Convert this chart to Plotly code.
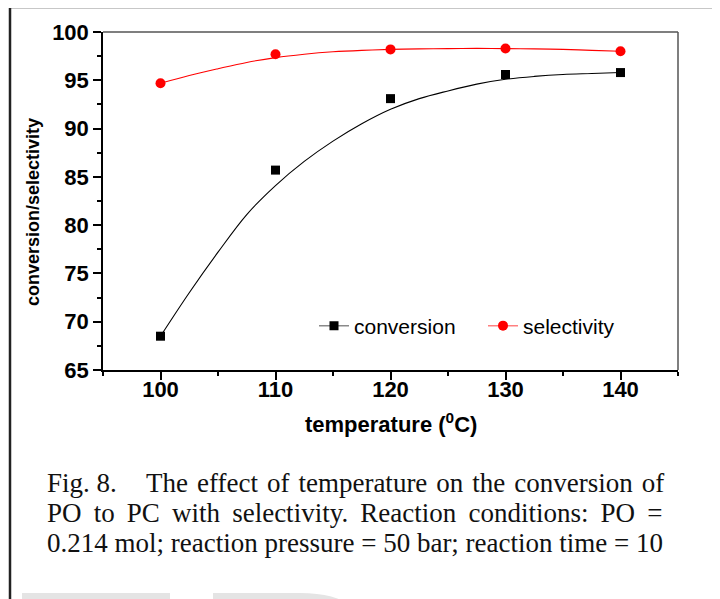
import plotly.graph_objects as go

# ---------------- data ----------------
temperature = [100, 110, 120, 130, 140]
conversion = [68.5, 85.7, 93.1, 95.6, 95.8]
selectivity = [94.7, 97.7, 98.2, 98.3, 98.0]

# fitted curves
fit_temperature = [100, 102.5, 105, 107.5, 110, 112.5, 115, 117.5, 120,
                   122.5, 125, 127.5, 130, 132.5, 135, 137.5, 140]
conversion_fit = [68.5, 73.0, 77.2, 81.1, 84.1, 86.6, 88.7, 90.5, 92.0,
                  93.1, 93.9, 94.6, 95.1, 95.4, 95.6, 95.7, 95.8]
selectivity_fit = [94.7, 95.5, 96.2, 96.85, 97.35, 97.7, 97.95, 98.1, 98.2,
                   98.25, 98.28, 98.3, 98.28, 98.25, 98.2, 98.1, 98.0]

x_ticks = [100, 110, 120, 130, 140]
y_ticks = [65, 70, 75, 80, 85, 90, 95, 100]

caption_lines = [
    "Fig. 8.",
    "The effect of temperature on the conversion of",
    "PO to PC with selectivity. Reaction conditions: PO =",
    "0.214 mol; reaction pressure = 50 bar; reaction time = 10",
]

# ---------------- layout geometry (pixels) ----------------
# the page body adds an 8px offset; positions below are in reference pixels
OFF = 8
W, H = 720, 599
ML, MT = 103 - OFF, 32 - OFF
PW, PH = 575, 338
MR, MB = W - ML - PW, H - MT - PH


def px(xp):
    return (xp - OFF - ML) / PW


def py(yp):
    return (MT + PH - (yp - OFF)) / PH


SANS = "Liberation Sans, Arial, sans-serif"
SERIF = "Liberation Serif, Times New Roman, serif"

fig = go.Figure()

# fitted lines
fig.add_trace(go.Scatter(x=fit_temperature, y=conversion_fit, mode="lines",
                         line=dict(color="black", width=1.1, shape="spline"),
                         showlegend=False, hoverinfo="skip"))
fig.add_trace(go.Scatter(x=fit_temperature, y=selectivity_fit, mode="lines",
                         line=dict(color="#ff0000", width=1.1, shape="spline"),
                         showlegend=False, hoverinfo="skip"))
# data points
fig.add_trace(go.Scatter(x=temperature, y=conversion, mode="markers",
                         marker=dict(symbol="square", size=9, color="black"),
                         showlegend=False))
fig.add_trace(go.Scatter(x=temperature, y=selectivity, mode="markers",
                         marker=dict(symbol="circle", size=10, color="#ff0000"),
                         showlegend=False))
# legend entries
fig.add_trace(go.Scatter(x=[None], y=[None], mode="lines+markers", name="conversion",
                         line=dict(color="#8a8a8a", width=1.5),
                         marker=dict(symbol="square", size=9, color="black")))
fig.add_trace(go.Scatter(x=[None], y=[None], mode="lines+markers", name="selectivity",
                         line=dict(color="#ff8080", width=1.5),
                         marker=dict(symbol="circle", size=10, color="#ff0000")))

axis_common = dict(
    showgrid=False, zeroline=False, showline=True, linecolor="black", linewidth=1.5,
    ticks="outside", ticklen=8, tickwidth=1.5, tickcolor="black",
    tickfont=dict(family=SANS, size=22, color="black", weight="bold"),
    mirror=False,
)

fig.update_layout(
    width=W, height=H,
    margin=dict(l=ML, r=MR, t=MT, b=MB, autoexpand=False),
    paper_bgcolor="white", plot_bgcolor="white",
    xaxis=dict(range=[95, 145], tickvals=x_ticks, ticklabelstandoff=-9,
               minor=dict(dtick=5, tick0=95, ticklen=4, tickwidth=1.5,
                          tickcolor="black", ticks="outside"),
               **axis_common),
    yaxis=dict(range=[65, 100], tickvals=y_ticks,
               minor=dict(dtick=2.5, tick0=65, ticklen=4, tickwidth=1.5,
                          tickcolor="black", ticks="outside"),
               **axis_common),
    legend=dict(orientation="h", x=px(314), y=py(326), xanchor="left", yanchor="middle",
                font=dict(family=SANS, size=21, color="black"),
                bgcolor="rgba(0,0,0,0)", entrywidth=124, entrywidthmode="pixels"),
    showlegend=True,
)

annotations = [
    dict(text="<b>conversion/selectivity</b>", x=px(33), y=py(212), xref="paper", yref="paper",
         textangle=-90, showarrow=False, font=dict(family=SANS, size=18, color="black"),
         xanchor="center", yanchor="middle"),
    dict(text="<b>temperature (<sup>0</sup>C)</b>", x=px(391), y=py(423), xref="paper", yref="paper",
         showarrow=False, font=dict(family=SANS, size=22, color="black"),
         xanchor="center", yanchor="middle"),
    dict(text=caption_lines[0], x=px(45), y=py(483), xref="paper", yref="paper",
         showarrow=False, font=dict(family=SERIF, size=27, color="#111"),
         xanchor="left", yanchor="middle"),
    dict(text=caption_lines[1].replace(" ", " \u200a"), x=px(666), y=py(483), xref="paper", yref="paper",
         showarrow=False, font=dict(family=SERIF, size=27, color="#111"),
         xanchor="right", yanchor="middle"),
    dict(text=caption_lines[2].replace(" ", " \u2009"), x=px(45), y=py(513), xref="paper", yref="paper",
         showarrow=False, font=dict(family=SERIF, size=27, color="#111"),
         xanchor="left", yanchor="middle"),
    dict(text=caption_lines[3], x=px(45), y=py(543), xref="paper", yref="paper",
         showarrow=False, font=dict(family=SERIF, size=27, color="#111"),
         xanchor="left", yanchor="middle"),
]
fig.update_layout(annotations=annotations)

shapes = [
    # grey top and right frame of the plot
    dict(type="line", xref="paper", yref="paper", x0=0, x1=1, y0=1, y1=1,
         line=dict(color="#555", width=1.5)),
    dict(type="line", xref="paper", yref="paper", x0=1, x1=1, y0=0, y1=1,
         line=dict(color="#555", width=1.5)),
    # page border
    dict(type="line", xref="paper", yref="paper", x0=px(10), x1=px(730), y0=py(7), y1=py(7),
         line=dict(color="#222", width=2.5)),
    dict(type="line", xref="paper", yref="paper", x0=px(10), x1=px(10), y0=py(7), y1=py(610),
         line=dict(color="#222", width=2.5)),
    # faint watermark at bottom
    dict(type="rect", xref="paper", yref="paper", x0=px(22), x1=px(170), y0=py(593), y1=py(610),
         fillcolor="#e4e4e4", line=dict(width=0), layer="below"),
    dict(type="path", xref="paper", yref="paper",
         path=f"M {px(213)},{py(593)} L {px(300)},{py(593)} Q {px(340)},{py(593)} {px(355)},{py(610)} L {px(213)},{py(610)} Z",
         fillcolor="#e4e4e4", line=dict(width=0), layer="below"),
]
fig.update_layout(shapes=shapes)

fig.write_html("out.html")
